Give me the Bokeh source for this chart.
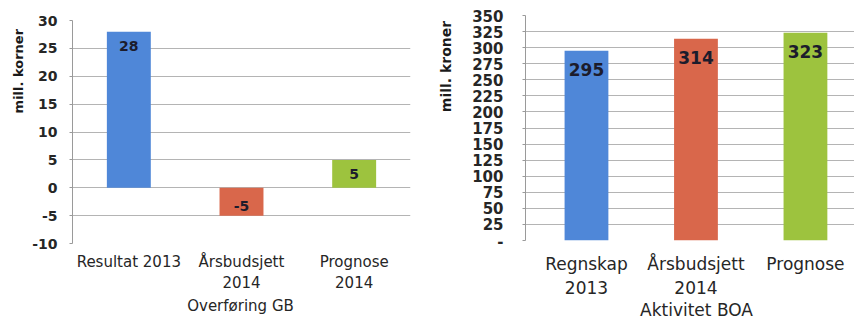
import math
from bokeh.plotting import figure
from bokeh.models import Range1d, FixedTicker, ColumnDataSource, Label
from bokeh.layouts import row, column
from bokeh.embed import file_html
from bokeh.resources import INLINE
from bokeh.core.properties import value

# ---- data ----
left_categories = ["Resultat 2013", "Årsbudsjett\n2014", "Prognose\n2014"]
left_values = [28, -5, 5]
left_ticks = [-10, -5, 0, 5, 10, 15, 20, 25, 30]
left_ylabel = "mill. korner"
left_xlabel = "Overføring GB"

right_categories = ["Regnskap\n2013", "Årsbudsjett\n2014", "Prognose"]
right_values = [295, 314, 323]
right_ticks = list(range(0, 351, 25))
right_ylabel = "mill. kroner"
right_xlabel = "Aktivitet BOA"

colors = ["#4f87d8", "#d9674b", "#9dc33e"]
FONT = "DejaVu Sans"
GRID = "#b4b4b4"
TXT = "#262626"

LH, LB = 295, 23   # left: chart height, bottom title strip
RH, RB = 300, 18   # right: chart height, bottom title strip


def style(p):
    p.outline_line_color = None
    p.xgrid.grid_line_color = None
    p.ygrid.grid_line_color = GRID
    p.xaxis.axis_line_color = None
    p.xaxis.major_tick_line_color = None
    p.xaxis.minor_tick_line_color = None
    p.yaxis.minor_tick_line_color = None
    p.yaxis.axis_line_color = "#9a9a9a"
    p.yaxis.major_tick_line_color = "#9a9a9a"
    p.yaxis.major_tick_in = 0
    p.yaxis.major_tick_out = 3
    p.xaxis.major_label_text_font = FONT
    p.yaxis.major_label_text_font = FONT
    p.xaxis.major_label_text_color = TXT
    p.yaxis.major_label_text_color = TXT
    p.yaxis.major_label_text_font_style = "bold"
    p.background_fill_color = "white"
    p.border_fill_color = "white"


def text_fig(width, height, text, cx, cy, size, angle=0.0, bold=False):
    t = figure(width=width, height=height, x_range=Range1d(0, width), y_range=Range1d(height, 0),
               x_axis_type=None, y_axis_type=None, output_backend="svg", toolbar_location=None,
               min_border=0)
    t.outline_line_color = None
    t.xgrid.visible = False
    t.ygrid.visible = False
    t.add_layout(Label(x=cx, y=cy, text=text, angle=angle, text_align="center",
                       text_baseline="middle", text_font=FONT,
                       text_font_style="bold" if bold else "normal",
                       text_font_size=size, text_color="#1a1a1a" if bold else TXT))
    return t


# ---- left chart ----
lx = list(range(len(left_categories)))
p1 = figure(width=404, height=LH, x_range=Range1d(-0.5, 2.5), y_range=Range1d(-10, 30),
            output_backend="svg", toolbar_location=None,
            min_border_left=46, min_border_right=20, min_border_top=20, min_border_bottom=LH - 243)
style(p1)
src1 = ColumnDataSource(dict(
    x=lx, top=left_values, color=colors,
    label=[str(v) for v in left_values],
    base=["top" if v >= 0 else "bottom" for v in left_values],
    off=[9 if v >= 0 else -5 for v in left_values],
))
p1.vbar(x="x", top="top", bottom=0, width=0.39, fill_color="color", line_color=None, source=src1)
p1.text(x="x", y="top", text="label", text_align="center", text_baseline="base", y_offset="off",
        text_font=value(FONT), text_font_style="bold", text_font_size="14px",
        text_color="#1c1c2c", source=src1)
p1.yaxis.ticker = FixedTicker(ticks=left_ticks)
p1.ygrid.ticker = FixedTicker(ticks=left_ticks)
p1.yaxis.major_label_overrides = {t: str(t) for t in left_ticks if t < 0}
p1.yaxis.major_label_text_font_size = "14px"
p1.yaxis.major_label_standoff = 12
p1.xaxis.ticker = FixedTicker(ticks=lx)
p1.xaxis.major_label_overrides = {i: c for i, c in zip(lx, left_categories)}
p1.xaxis.major_label_text_font_size = "15px"
p1.xaxis.major_label_standoff = 3

t1 = text_fig(26, LH, left_ylabel, 18, 67, "13px", angle=math.pi / 2, bold=True)
b1 = text_fig(430, LB, left_xlabel, 240, 305 - LH, "15px")

# ---- right chart ----
rx = list(range(len(right_categories)))
p2 = figure(width=394, height=RH, x_range=Range1d(-0.557, 2.448), y_range=Range1d(0, 350),
            output_backend="svg", toolbar_location=None,
            min_border_left=65, min_border_right=0, min_border_top=15, min_border_bottom=RH - 242)
style(p2)
src2 = ColumnDataSource(dict(
    x=rx, top=right_values, color=colors,
    label=[str(v) for v in right_values],
))
p2.vbar(x="x", top="top", bottom=0, width=0.40, fill_color="color", line_color=None, source=src2)
p2.text(x="x", y="top", text="label", text_align="center", text_baseline="middle", y_offset=19,
        text_font=value(FONT), text_font_style="bold", text_font_size="17px",
        text_color="#1c1c2c", source=src2)
p2.yaxis.ticker = FixedTicker(ticks=right_ticks)
p2.ygrid.ticker = FixedTicker(ticks=right_ticks)
p2.yaxis.major_label_overrides = {0: "-"}
p2.yaxis.major_label_text_font_size = "15px"
p2.yaxis.major_label_standoff = 19
p2.xaxis.ticker = FixedTicker(ticks=rx)
p2.xaxis.major_label_overrides = {i: c for i, c in zip(rx, right_categories)}
p2.xaxis.major_label_text_font_size = "17px"
p2.xaxis.major_label_standoff = 7

t2 = text_fig(30, RH, right_ylabel, 15, 68, "14px", angle=math.pi / 2, bold=True)
b2 = text_fig(424, RB, right_xlabel, 696 - 430, 309 - RH, "17px")

layout = row(column(row(t1, p1), b1), column(row(t2, p2), b2))
open("out.html", "w").write(file_html(layout, INLINE))
